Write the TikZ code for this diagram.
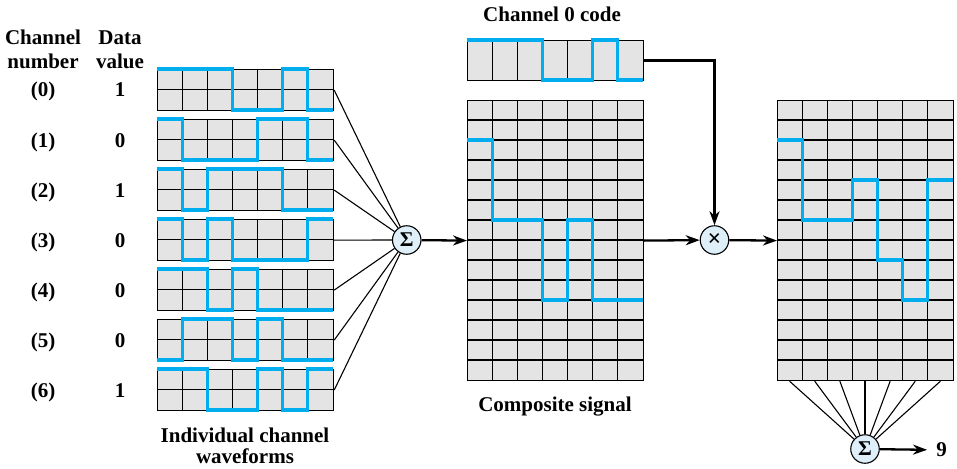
\documentclass[tikz,border=0pt]{standalone}
\usepackage{fontspec}
\setmainfont{Liberation Serif}
\usetikzlibrary{arrows.meta,calc}
\definecolor{wavec}{RGB}{0,174,239}
\definecolor{cellc}{RGB}{228,228,228}
\definecolor{circc}{RGB}{222,239,249}
\newcommand\cellgrid[3]{%
  \begin{scope}[shift={(#1.north west)},x=25.143pt,y=-#2pt]
    \foreach \i in {1,...,6} \draw[gridl] (\i,0) -- (\i,#3);
  \end{scope}}
\newcommand\rowlines[3]{%
  \begin{scope}[shift={(#1.north west)},x=25.143pt,y=-#2pt]
    \foreach \j in {#3} \draw[gridl] (0,\j) -- (7,\j);
  \end{scope}}
\begin{document}
\begin{tikzpicture}[x=1pt,y=-1pt,
  lbl/.style={font=\bfseries\fontsize{21}{24}\selectfont, inner sep=0pt, anchor=base},
  boxc/.style={draw, line width=1.2pt, fill=cellc, minimum width=176pt, minimum height=41pt, inner sep=0pt, anchor=north west},
  gridl/.style={line width=1.2pt, black},
  wave/.style={line width=3.2pt, wavec, line join=miter},
  opnode/.style={circle, draw, line width=1.1pt, fill=circc, minimum size=28.5pt, inner sep=0pt},
  thinl/.style={line width=1.1pt},
  arr/.style={line width=2.3pt, -{Stealth[length=14pt,width=10pt,inset=4.5pt]}}
]
\useasboundingbox (0,0) rectangle (957,468);

% channel boxes
\foreach \k in {0,...,6} {
  \node[boxc] (ch\k) at (157,{69+50*\k}) {};
  \cellgrid{ch\k}{20.5}{2}
  \rowlines{ch\k}{20.5}{1}
}
\node[boxc, minimum height=40pt] (code) at (467,40) {};
\cellgrid{code}{40}{1}
\node[boxc, minimum height=280pt] (comp) at (467,100) {};
\cellgrid{comp}{20}{14}
\rowlines{comp}{20}{1,...,13}
\node[boxc, minimum height=280pt] (res) at (777,100) {};
\cellgrid{res}{20}{14}
\rowlines{res}{20}{1,...,13}

% waveforms
\begin{scope}[shift={(ch0.north west)},x=25.143pt,y=-20.5pt]
  \draw[wave] (0,0) -- (3,0) -- (3,2) -- (5,2) -- (5,0) -- (6,0) -- (6,2) -- (7,2);
\end{scope}
\begin{scope}[shift={(ch1.north west)},x=25.143pt,y=-20.5pt]
  \draw[wave] (0,0) -- (1,0) -- (1,2) -- (4,2) -- (4,0) -- (6,0) -- (6,2) -- (7,2);
\end{scope}
\begin{scope}[shift={(ch2.north west)},x=25.143pt,y=-20.5pt]
  \draw[wave] (0,0) -- (1,0) -- (1,2) -- (2,2) -- (2,0) -- (5,0) -- (5,2) -- (7,2);
\end{scope}
\begin{scope}[shift={(ch3.north west)},x=25.143pt,y=-20.5pt]
  \draw[wave] (0,0) -- (1,0) -- (1,2) -- (2,2) -- (2,0) -- (3,0) -- (3,2) -- (6,2) -- (6,0) -- (7,0);
\end{scope}
\begin{scope}[shift={(ch4.north west)},x=25.143pt,y=-20.5pt]
  \draw[wave] (0,0) -- (2,0) -- (2,2) -- (3,2) -- (3,0) -- (4,0) -- (4,2) -- (7,2);
\end{scope}
\begin{scope}[shift={(ch5.north west)},x=25.143pt,y=-20.5pt]
  \draw[wave] (0,2) -- (1,2) -- (1,0) -- (3,0) -- (3,2) -- (4,2) -- (4,0) -- (5,0) -- (5,2) -- (7,2);
\end{scope}
\begin{scope}[shift={(ch6.north west)},x=25.143pt,y=-20.5pt]
  \draw[wave] (0,0) -- (2,0) -- (2,2) -- (4,2) -- (4,0) -- (5,0) -- (5,2) -- (6,2) -- (6,0) -- (7,0);
\end{scope}
\begin{scope}[shift={(code.north west)},x=25.143pt,y=-40pt]
  \draw[wave] (0,0) -- (3,0) -- (3,1) -- (5,1) -- (5,0) -- (6,0) -- (6,1) -- (7,1);
\end{scope}
\begin{scope}[shift={(comp.north west)},x=25.143pt,y=-20pt]
  \draw[wave] (0,2) -- (1,2) -- (1,6) -- (3,6) -- (3,10) -- (4,10) -- (4,6) -- (5,6) -- (5,10) -- (7,10);
\end{scope}
\begin{scope}[shift={(res.north west)},x=25.143pt,y=-20pt]
  \draw[wave] (0,2) -- (1,2) -- (1,6) -- (3,6) -- (3,4) -- (4,4) -- (4,8) -- (5,8) -- (5,10) -- (6,10) -- (6,4) -- (7,4);
\end{scope}

% operators
\node[opnode, font=\bfseries\fontsize{21}{21}\selectfont] (s1) at (406.7,240) {Σ};
\node[opnode, font=\bfseries\fontsize{24}{24}\selectfont] (mult) at (714.5,240) {×};
\node[opnode, font=\bfseries\fontsize{21}{21}\selectfont] (s2) at (865,449) {Σ};

% connectors
\foreach \k in {0,...,6} \draw[thinl] (ch\k.east) -- (s1);
\draw[arr] (s1) -- (comp.west);
\draw[arr] (comp.east) -- (mult);
\draw[arr] (mult) -- (res.west);
\draw[arr] (code.east) -| (mult);
\foreach \i in {0,...,6} {
  \coordinate (b\i) at ($(res.south west)+({12.571+25.143*\i},0)$);
  \draw[thinl] (b\i) -- (s2);
}
\node[font=\bfseries\fontsize{21}{24}\selectfont, inner sep=0pt] (nine) at (941.5,450) {9};
\draw[arr, shorten >=9pt] (s2) -- (nine);

% labels
\node[lbl] (h1a) at (43,45) {Channel};
\node[lbl] (h1b) at (43,69) {number};
\node[lbl] (h2a) at (120,45) {Data};
\node[lbl] (h2b) at (120,69) {value};
\foreach \k/\v in {0/1,1/0,2/1,3/0,4/0,5/0,6/1} {
  \node[lbl] (n\k) at (43,{97+50*\k}) {(\k)};
  \node[lbl] (v\k) at (120,{97+50*\k}) {\v};
}
\node[lbl] (codelbl) at (552,22) {Channel 0 code};
\node[lbl] (complbl) at (555,411) {Composite signal};
\node[lbl] (indlbla) at (245,442) {Individual channel};
\node[lbl] (indlblb) at (245,463) {waveforms};
\end{tikzpicture}
\end{document}
